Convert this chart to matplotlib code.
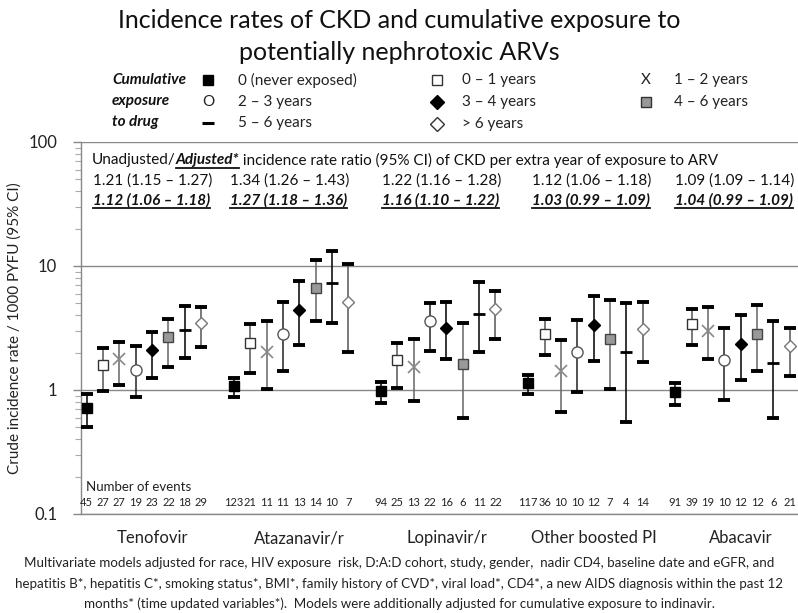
import numpy as np
import matplotlib
matplotlib.use("Agg")
import matplotlib.pyplot as plt
from matplotlib.lines import Line2D
from matplotlib.ticker import LogLocator, NullFormatter, FixedLocator
import matplotlib.transforms as mtransforms

plt.rcParams['font.family'] = ['Lato', 'DejaVu Sans']

# ---------------- data ----------------
drugs = ["Tenofovir", "Atazanavir/r", "Lopinavir/r", "Other boosted PI", "Abacavir"]
exposure_labels = ["0 (never exposed)", "0 \u2013 1 years", "1 \u2013 2 years", "2 \u2013 3 years",
                   "3 \u2013 4 years", "4 \u2013 6 years", "5 \u2013 6 years", "> 6 years"]

tdf_rate = [0.72, 1.58, 1.78, 1.44, 2.11, 2.68, 3.02, 3.46]
tdf_lo = [0.505, 0.98, 1.10, 0.87, 1.24, 1.53, 1.80, 2.23]
tdf_hi = [0.92, 2.17, 2.44, 2.26, 2.94, 3.75, 4.77, 4.69]

atv_rate = [1.08, 2.41, 2.03, 2.85, 4.43, 6.64, 7.29, 5.12]
atv_lo = [0.87, 1.37, 1.02, 1.43, 2.32, 3.63, 3.46, 2.04]
atv_hi = [1.24, 3.42, 3.63, 5.08, 7.51, 11.1, 13.2, 10.4]

lpv_rate = [0.98, 1.74, 1.53, 3.57, 3.15, 1.63, 4.11, 4.46]
lpv_lo = [0.78, 1.04, 0.81, 2.08, 1.79, 0.59, 2.04, 2.60]
lpv_hi = [1.17, 2.39, 2.60, 5.02, 5.08, 3.50, 7.37, 6.28]

obpi_rate = [1.13, 2.85, 1.41, 2.02, 3.33, 2.57, 2.02, 3.10]
obpi_lo = [0.92, 1.92, 0.66, 0.96, 1.72, 1.02, 0.55, 1.68]
obpi_hi = [1.33, 3.77, 2.55, 3.70, 5.75, 5.27, 5.05, 5.17]

abc_rate = [0.96, 3.42, 3.00, 1.75, 2.35, 2.82, 1.66, 2.26]
abc_lo = [0.75, 2.31, 1.79, 0.83, 1.20, 1.43, 0.60, 1.29]
abc_hi = [1.13, 4.49, 4.69, 3.19, 4.06, 4.84, 3.63, 3.19]

tdf_events = [45, 27, 27, 19, 23, 22, 18, 29]
atv_events = [123, 21, 11, 11, 13, 14, 10, 7]
lpv_events = [94, 25, 13, 22, 16, 6, 11, 22]
obpi_events = [117, 36, 10, 10, 12, 7, 4, 14]
abc_events = [91, 39, 19, 10, 12, 12, 6, 21]

irr_unadjusted = ["1.21 (1.15 \u2013 1.27)", "1.34 (1.26 \u2013 1.43)", "1.22 (1.16 \u2013 1.28)",
                  "1.12 (1.06 \u2013 1.18)", "1.09 (1.09 \u2013 1.14)"]
irr_adjusted = ["1.12 (1.06 \u2013 1.18)", "1.27 (1.18 \u2013 1.36)", "1.16 (1.10 \u2013 1.22)",
                "1.03 (0.99 \u2013 1.09)", "1.04 (0.99 \u2013 1.09)"]

rates = [tdf_rate, atv_rate, lpv_rate, obpi_rate, abc_rate]
lows = [tdf_lo, atv_lo, lpv_lo, obpi_lo, abc_lo]
highs = [tdf_hi, atv_hi, lpv_hi, obpi_hi, abc_hi]
events = [tdf_events, atv_events, lpv_events, obpi_events, abc_events]

# ---------------- styles ----------------
marker_styles = [
    dict(marker='s', mfc='black', mec='black', ms=7.5, mew=1),
    dict(marker='s', mfc='white', mec='#333333', ms=7, mew=1),
    dict(marker='x', mfc='none', mec='#888888', ms=8, mew=1.2),
    dict(marker='o', mfc='white', mec='#555555', ms=8, mew=1),
    dict(marker='D', mfc='black', mec='black', ms=6, mew=1),
    dict(marker='s', mfc='#999999', mec='#444444', ms=7, mew=1),
    dict(marker='_', mfc='black', mec='black', ms=8, mew=2),
    dict(marker='D', mfc='white', mec='#777777', ms=6.5, mew=1),
]
line_colors = ['black', '#555555', '#666666', '#222222', 'black', '#666666', 'black', '#555555']

W, H = 798, 613
fig = plt.figure(figsize=(W / 100, H / 100), dpi=100)

ax_left, ax_top, ax_bottom = 80.5, 142, 514
ax = fig.add_axes([ax_left / W, (H - ax_bottom) / H, 1 - ax_left / W, (ax_bottom - ax_top) / H])
ax.set_yscale('log')
ax.set_ylim(0.1, 100)
ax.set_xlim(-0.38, 43.5)

n_cat = len(exposure_labels)
for i in range(n_cat):
    xs = np.array([g * 9 + i for g in range(len(drugs))], dtype=float)
    ys = np.array([rates[g][i] for g in range(len(drugs))])
    lo = np.array([lows[g][i] for g in range(len(drugs))])
    hi = np.array([highs[g][i] for g in range(len(drugs))])
    eb = ax.errorbar(xs, ys, yerr=[ys - lo, hi - ys], fmt='none', ecolor=line_colors[i],
                     elinewidth=1.1, capsize=4.3, capthick=2.8, zorder=3)
    for cl in eb[1]:
        cl.set_color('black')
        cl.set_markeredgecolor('black')
        cl.set_markerfacecolor('black')
    st = marker_styles[i]
    ax.plot(xs, ys, linestyle='none', marker=st['marker'], markerfacecolor=st['mfc'],
            markeredgecolor=st['mec'], markersize=st['ms'], markeredgewidth=st['mew'], zorder=4)

# axes styling
ax.yaxis.set_major_locator(FixedLocator([0.1, 1, 10, 100]))
ax.set_yticklabels(['0.1', '1', '10', '100'])
ax.yaxis.set_minor_locator(LogLocator(base=10, subs=np.arange(2, 10)))
ax.yaxis.set_minor_formatter(NullFormatter())
ax.tick_params(axis='y', which='major', direction='out', length=5.8, width=1, color='#888888',
               labelsize=12, pad=11, labelcolor='#222222')
ax.tick_params(axis='y', which='minor', direction='out', length=4.3, width=0.8, color='#aaaaaa')
ax.set_xticks([])
ax.yaxis.grid(True, which='major', color='#888888', linewidth=1)
ax.set_axisbelow(True)
for s in ['top', 'right']:
    ax.spines[s].set_visible(False)
for s in ['left', 'bottom']:
    ax.spines[s].set_color('#888888')
    ax.spines[s].set_linewidth(1)
ax.set_ylabel('Crude incidence rate / 1000 PYFU (95% CI)', fontsize=11, color='#222222')
ax.yaxis.set_label_coords((22 - ax_left) / (W - ax_left), 0.5)

# category labels and event counts
blend = mtransforms.blended_transform_factory(ax.transData, ax.transAxes)
for g, name in enumerate(drugs):
    ax.text(g * 9 + 4, (ax_bottom - 538) / (ax_bottom - ax_top), name, transform=blend,
            ha='center', va='center', fontsize=12, color='#222222', clip_on=False)
    for i, ev in enumerate(events[g]):
        ax.text(g * 9 + i, (ax_bottom - 503) / (ax_bottom - ax_top), str(ev), transform=blend,
                ha='center', va='center', fontsize=8, color='#222222')

# overlay in pixel coordinates for free text
ov = fig.add_axes([0, 0, 1, 1])
ov.set_xlim(0, W)
ov.set_ylim(H, 0)
ov.axis('off')
ov.patch.set_visible(False)

ov.text(86, 487, 'Number of events', fontsize=9.5, va='center', ha='left', color='#222222')

# title
ov.text(W / 2, 20, 'Incidence rates of CKD and cumulative exposure to', fontsize=18,
        ha='center', va='center', color='#111111')
ov.text(W / 2, 52, 'potentially nephrotoxic ARVs', fontsize=18, ha='center', va='center',
        color='#111111')

# legend
for k, word in enumerate(['Cumulative', 'exposure', 'to drug']):
    ov.text(112, [80, 101, 122][k], word, fontsize=11, fontweight='bold', fontstyle='italic',
            ha='left', va='center', color='#111111')

legend_rows = [
    (208, 80, 'marker', 0, 238, exposure_labels[0]),
    (208, 102, 'text', 'O', 238, exposure_labels[3]),
    (208, 123, 'marker', 6, 238, exposure_labels[6]),
    (437, 80, 'marker', 1, 462, exposure_labels[1]),
    (437, 102, 'marker', 4, 462, exposure_labels[4]),
    (437, 124, 'marker', 7, 462, exposure_labels[7]),
    (646, 80, 'text', 'X', 674, exposure_labels[2]),
    (646, 102, 'marker', 5, 674, exposure_labels[5]),
]
for mx, my, kind, spec, lx, lab in legend_rows:
    if kind == 'marker':
        st = marker_styles[spec]
        ms = st['ms'] * (1.25 if spec == 4 else 1.05)
        ov.plot([mx], [my], linestyle='none', marker=st['marker'], markerfacecolor=st['mfc'],
                markeredgecolor='black' if spec in (0, 4, 6) else '#333333', markersize=ms,
                markeredgewidth=st['mew'] if spec != 6 else 2.2)
    else:
        ov.text(mx, my, spec, fontsize=11, ha='center', va='center', color='#222222')
    ov.text(lx, my, lab, fontsize=11, ha='left', va='center', color='#222222')

# rich text inside the plot
fig.canvas.draw()
renderer = fig.canvas.get_renderer()


def draw_segments(x, y, segments, fontsize):
    cur = x
    for txt, bold_it, underline in segments:
        t = ov.text(cur, y, txt, fontsize=fontsize, ha='left', va='center', color='#111111',
                    fontweight='bold' if bold_it else 'normal',
                    fontstyle='italic' if bold_it else 'normal')
        bb = t.get_window_extent(renderer)
        if underline:
            yline = H - bb.y0 + 0.5
            ov.add_line(Line2D([bb.x0, bb.x1], [yline, yline], color='#111111', linewidth=1.3))
        cur += bb.width
    return cur


draw_segments(92, 160, [("Unadjusted/", False, False), ("Adjusted*", True, True),
                        (" incidence rate ratio (95% CI) of CKD per extra year of exposure to ARV",
                         False, False)], 11)

x_cols = [93, 230, 382, 532, 675]
for g in range(len(drugs)):
    draw_segments(x_cols[g], 181, [(irr_unadjusted[g], False, False)], 11)
    draw_segments(x_cols[g], 200, [(irr_adjusted[g], True, True)], 11)

# footnote
foot = ["Multivariate models adjusted for race, HIV exposure  risk, D:A:D cohort, study, gender,  nadir CD4, baseline date and eGFR, and",
        "hepatitis B*, hepatitis C*, smoking status*, BMI*, family history of CVD*, viral load*, CD4*, a new AIDS diagnosis within the past 12",
        "months* (time updated variables*).  Models were additionally adjusted for cumulative exposure to indinavir."]
for k, line in enumerate(foot):
    ov.text(W / 2, [563, 584, 604][k], line, fontsize=9.6, ha='center', va='center', color='#222222')

fig.savefig('out.png', dpi=100)
